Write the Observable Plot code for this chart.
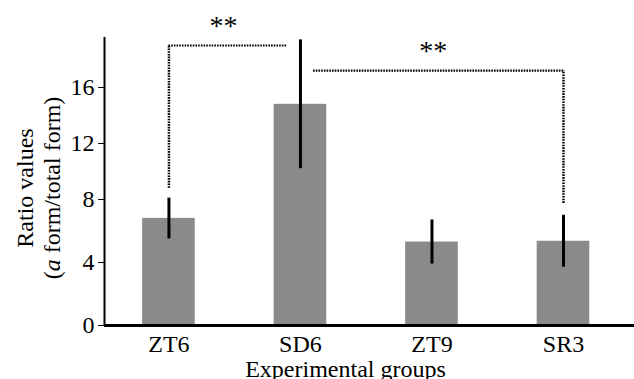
<!DOCTYPE html>
<html><head><meta charset="utf-8">
<script src="https://cdn.jsdelivr.net/npm/d3@7"></script>
<script src="https://cdn.jsdelivr.net/npm/@observablehq/plot@0.6"></script>
<style>
body{margin:0;background:#fff;}
svg, svg text { font-family: 'Liberation Serif', 'DejaVu Serif', serif !important; }
</style>
</head><body><div id="chart"></div>
<script>
// Categories and values
const groups = ["ZT6", "SD6", "ZT9", "SR3"];
const ratioMeans = [6.8, 14.8, 5.3, 5.35];
const ratioErrors = [1.3, 4.6, 1.4, 1.65];
const yTicks = [0, 4, 8, 12, 16];
const yAxisTop = 19.57;
// Significance brackets (x in group index units, y in ratio units)
const bracketH = [{x1: 0, x2: 0.9, y: 19.0}, {x1: 1.1, x2: 3.0, y: 17.2}];
const bracketV = [{x: 0, y1: 8.8, y2: 19.0}, {x: 3.0, y1: 7.75, y2: 17.2}];
const stars = [{x: 0.414, y: 20.36, label: "**"}, {x: 2.01, y: 18.57, label: "**"}];
const xTitle = "Experimental groups";

const data = groups.map((g, i) => ({i, g, mean: ratioMeans[i], err: ratioErrors[i]}));
const xDomain = [-0.49, 3.54];
const font = "'Liberation Serif', 'DejaVu Serif', serif";

const svg = Plot.plot({
  width: 634, height: 379,
  marginLeft: 104, marginRight: 0, marginTop: 17, marginBottom: 54,
  style: {fontFamily: font, fontSize: "24px", background: "#fff", color: "#000", overflow: "visible"},
  x: {type: "linear", domain: xDomain, ticks: groups.map((_, i) => i), tickFormat: i => groups[i],
      tickSize: 0, tickPadding: 9, label: null},
  y: {type: "linear", domain: [0, 4, 8, 12, 16, 21], range: [325, 262, 199, 143, 87, 17],
      ticks: yTicks, tickSize: 6, tickPadding: 4, label: null},
  marks: [
    Plot.rect(data, {x1: d => d.i - 0.2, x2: d => d.i + 0.2, y1: 0, y2: "mean", fill: "#8a8a8a"}),
    Plot.ruleX(data, {x: "i", y1: d => d.mean - d.err, y2: d => d.mean + d.err, stroke: "#000", strokeWidth: 3}),
    Plot.ruleY(bracketH, {x1: "x1", x2: "x2", y: "y", stroke: "#000", strokeWidth: 2.2, strokeDasharray: "1.6,1.1"}),
    Plot.ruleX(bracketV, {x: "x", y1: "y1", y2: "y2", stroke: "#000", strokeWidth: 2.5, strokeDasharray: "1.6,1.1"}),
    Plot.text(stars, {x: "x", y: "y", text: "label", fontSize: 28, fill: "#000"}),
    Plot.ruleX([xDomain[0]], {y1: 0, y2: yAxisTop, stroke: "#000", strokeWidth: 2}),
    Plot.ruleY([0], {stroke: "#000", strokeWidth: 3})
  ]
});

const s = d3.select(svg);
s.append("text").attr("x", 345.5).attr("y", 377).attr("text-anchor", "middle")
  .attr("font-size", 24).attr("fill", "#000").text(xTitle);
s.append("text").attr("transform", "translate(33,188) rotate(-90)").attr("text-anchor", "middle")
  .attr("font-size", 24).attr("fill", "#000").text("Ratio values");
const t2 = s.append("text").attr("transform", "translate(60,188) rotate(-90)").attr("text-anchor", "middle")
  .attr("font-size", 24).attr("fill", "#000");
t2.append("tspan").text("(");
t2.append("tspan").attr("font-style", "italic").text("a");
t2.append("tspan").text(" form/total form)");

document.getElementById("chart").appendChild(svg);
</script>
</body></html>
